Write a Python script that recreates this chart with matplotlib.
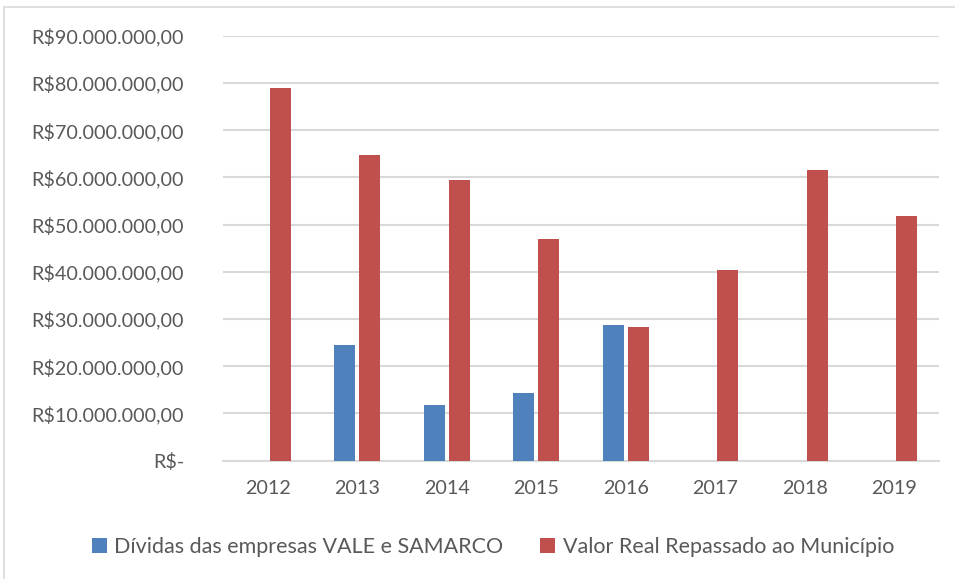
import matplotlib
matplotlib.use('Agg')
import matplotlib.pyplot as plt
from matplotlib.patches import Rectangle
import numpy as np

years = ['2012', '2013', '2014', '2015', '2016', '2017', '2018', '2019']
dividas = [0, 24.4e6, 11.7e6, 14.4e6, 28.7e6, 0, 0, 0]
repassado = [78.9e6, 64.8e6, 59.5e6, 46.9e6, 28.4e6, 40.3e6, 61.6e6, 51.9e6]
ytick_vals = [0, 10e6, 20e6, 30e6, 40e6, 50e6, 60e6, 70e6, 80e6, 90e6]
ytick_labels = ['R$-', 'R$10.000.000,00', 'R$20.000.000,00', 'R$30.000.000,00',
                'R$40.000.000,00', 'R$50.000.000,00', 'R$60.000.000,00',
                'R$70.000.000,00', 'R$80.000.000,00', 'R$90.000.000,00']

plt.rcParams['font.family'] = ['Lato', 'DejaVu Sans']
txt = '#595959'
grid = '#d9d9d9'
blue = '#4F81BD'
red = '#C0504D'

W, H = 955, 579
fig = plt.figure(figsize=(W / 100, H / 100), dpi=100)

# chart frame
fig.patches.append(Rectangle((4 / W, -0.05), 960 / W, 1 - 7 / H + 0.05,
                             transform=fig.transFigure, fill=False,
                             edgecolor=grid, linewidth=1.2))

ax = fig.add_axes([223 / W, 1 - 460.7 / H, (939 - 223) / W, (460.7 - 35.7) / H])

x = np.arange(len(years))
bw = 0.23
ax.bar(x - 0.14, dividas, bw, color=blue, label='Dívidas das empresas VALE e SAMARCO', zorder=3)
ax.bar(x + 0.14, repassado, bw, color=red, label='Valor Real Repassado ao Município', zorder=3)

ax.set_xlim(-0.5, len(years) - 0.5)
ax.set_ylim(0, 90e6)
ax.set_yticks(ytick_vals)
ax.set_yticklabels(ytick_labels)
ax.set_xticks(x)
ax.set_xticklabels(years)
ax.tick_params(axis='both', length=0, labelsize=14.2, colors=txt)
ax.tick_params(axis='y', pad=28)
ax.tick_params(axis='x', pad=14)

ax.grid(axis='y', color=grid, linewidth=1.5, zorder=0)
for s in ['top', 'right', 'left']:
    ax.spines[s].set_visible(False)
ax.spines['bottom'].set_color(grid)
ax.spines['bottom'].set_linewidth(1.5)

ax.legend(loc='center', bbox_to_anchor=(0.5 * (90 + 896) / W, 1 - 547 / H),
          bbox_transform=fig.transFigure, ncol=2, frameon=False,
          fontsize=15.5, labelcolor=txt, handlelength=0.7, handleheight=0.7,
          handletextpad=0.35, columnspacing=1.7)

fig.savefig('out.png', dpi=100)
